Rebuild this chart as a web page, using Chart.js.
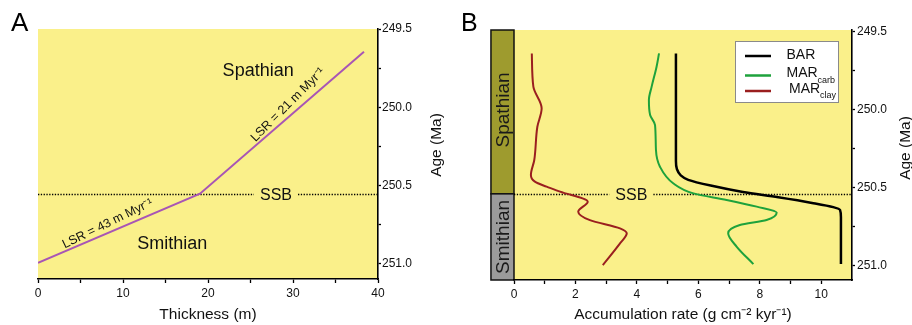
<!DOCTYPE html>
<html><head><meta charset="utf-8">
<script src="https://cdn.jsdelivr.net/npm/chart.js@4/dist/chart.umd.min.js"></script>
<style>
html,body{margin:0;padding:0;background:#fff;}
#wrap{position:relative;width:912px;height:325px;overflow:hidden;background:#fff;}
#ca{position:absolute;left:0;top:0;}
#cb{position:absolute;left:455px;top:0;}
</style></head><body>
<div id="wrap"><canvas id="ca" width="455" height="325"></canvas><canvas id="cb" width="457" height="325"></canvas></div>
<script>
// ---------- Panel A data ----------
const thicknessA = [0, 19.06, 38.35];
const ageA = [250.995, 250.553, 249.645];
const xTicksA = [0, 5, 10, 15, 20, 25, 30, 35, 40];
const xLabelsA = [0, 10, 20, 30, 40];
const ageTicks = [249.5, 249.75, 250.0, 250.25, 250.5, 250.75, 251.0];
const ageLabels = [249.5, 250.0, 250.5, 251.0];
const ssbAgeA = 250.553;

// ---------- Panel B data ----------
const barX   = [5.27, 5.27, 5.27, 5.30, 5.42, 5.67, 6.40, 7.45, 8.60, 9.70, 10.39, 10.61, 10.64, 10.64];
const barAge = [249.64, 250.10, 250.33, 250.38, 250.42, 250.45, 250.487, 250.528, 250.562, 250.598, 250.625, 250.643, 250.69, 250.99];
const carbX   = [4.72, 4.64, 4.48, 4.39, 4.43, 4.59, 4.62, 4.75, 5.18, 5.84, 6.92, 7.90, 8.55, 8.22, 7.35, 6.97, 7.25, 7.79];
const carbAge = [249.64, 249.725, 249.853, 249.939, 250.035, 250.099, 250.259, 250.366, 250.472, 250.537, 250.579, 250.622, 250.66, 250.708, 250.74, 250.793, 250.879, 250.99];
const clayX   = [0.58, 0.63, 0.90, 0.76, 0.66, 0.55, 0.68, 1.06, 1.50, 2.40, 2.09, 2.47, 3.45, 3.67, 3.45, 2.89];
const clayAge = [249.64, 249.853, 249.992, 250.11, 250.323, 250.419, 250.462, 250.494, 250.526, 250.59, 250.654, 250.708, 250.761, 250.793, 250.857, 250.996];
const xTicksB = [0, 1, 2, 3, 4, 5, 6, 7, 8, 9, 10];
const xLabelsB = [0, 2, 4, 6, 8, 10];
const ssbAgeB = 250.54;
const stageNames = ['Spathian', 'Smithian'];
const stageColors = ['#9E9B2E', '#9B9B9B'];
const legendNames = [['BAR', ''], ['MAR', 'carb'], ['MAR', 'clay']];

const FONT = "'Liberation Sans', Arial, Helvetica, sans-serif";
const YELLOW = '#FAF08A';
const TXT = '#111';
const pts = (xs, ys) => xs.map((v, i) => ({x: v, y: ys[i]}));

function rotText(ctx, text, x, y, deg, font, color) {
  ctx.save(); ctx.translate(x, y); ctx.rotate(deg * Math.PI / 180);
  ctx.font = font; ctx.fillStyle = color; ctx.textAlign = 'center'; ctx.textBaseline = 'middle';
  ctx.fillText(text, 0, 0); ctx.restore();
}
function fillArea(chart) {
  const {ctx, chartArea: a} = chart;
  ctx.save(); ctx.fillStyle = YELLOW; ctx.fillRect(a.left, a.top, a.right - a.left, a.bottom - a.top); ctx.restore();
}
function ssb(chart, age, labelX, size) {
  const {ctx, chartArea: a, scales: {x, y}} = chart;
  const py = Math.round(y.getPixelForValue(age)) + 0.5;
  const px = x.getPixelForValue(labelX);
  ctx.save();
  ctx.font = size + 'px ' + FONT;
  const w = ctx.measureText('SSB').width;
  ctx.strokeStyle = '#000'; ctx.lineWidth = 1.5; ctx.setLineDash([1.3, 1.5]);
  ctx.beginPath();
  ctx.moveTo(a.left, py); ctx.lineTo(px - w / 2 - 6, py);
  ctx.moveTo(px + w / 2 + 6, py); ctx.lineTo(a.right, py);
  ctx.stroke(); ctx.setLineDash([]);
  ctx.fillStyle = TXT; ctx.textAlign = 'center'; ctx.textBaseline = 'middle';
  ctx.fillText('SSB', px, py + 1);
  ctx.restore();
}
function letter(ctx, t, x, y, size) {
  ctx.save(); ctx.font = size + 'px ' + FONT; ctx.fillStyle = '#000';
  ctx.textAlign = 'left'; ctx.textBaseline = 'alphabetic'; ctx.fillText(t, x, y); ctx.restore();
}

function axisCommon(extra) {
  return Object.assign({
    type: 'linear',
    grid: {drawOnChartArea: false, drawTicks: true, tickLength: 4, color: '#000', tickColor: '#000', tickWidth: 1.3},
    border: {display: true, color: '#000', width: 1.6},
  }, extra);
}

// ---------- Panel A ----------
const panelA = {
  id: 'panelA',
  beforeDraw(chart) { fillArea(chart); },
  beforeDatasetsDraw(chart) { ssb(chart, ssbAgeA, 28.0, 16); },
  afterDraw(chart) {
    const {ctx, scales: {x, y}} = chart;
    const big = '18px ' + FONT;
    rotText(ctx, 'Spathian', x.getPixelForValue(25.9), y.getPixelForValue(249.768), 0, big, TXT);
    rotText(ctx, 'Smithian', x.getPixelForValue(15.8), y.getPixelForValue(250.872), 0, big, TXT);
    rotText(ctx, 'LSR = 43 m Myr\u207B\u00B9', x.getPixelForValue(8.2), y.getPixelForValue(250.744), -26, '12.5px ' + FONT, TXT);
    rotText(ctx, 'LSR = 21 m Myr\u207B\u00B9', x.getPixelForValue(29.4), y.getPixelForValue(249.985), -45, '12.5px ' + FONT, TXT);
    rotText(ctx, 'Age (Ma)', 437, 145, -90, '15.5px ' + FONT, TXT);
    letter(ctx, 'A', 11, 30.5, 26);
  }
};

new Chart(document.getElementById('ca'), {
  type: 'scatter',
  data: {datasets: [{
    data: pts(thicknessA, ageA), showLine: true, borderColor: '#A855B5', borderWidth: 2,
    pointRadius: 0, tension: 0, fill: false
  }]},
  options: {
    responsive: false, animation: false, devicePixelRatio: 1,
    layout: {padding: {left: 38, top: 29, right: 0, bottom: 0}},
    plugins: {legend: {display: false}, tooltip: {enabled: false}},
    scales: {
      x: axisCommon({
        position: 'bottom', min: 0, max: 40,
        afterBuildTicks: s => { s.ticks = xTicksA.map(v => ({value: v})); },
        ticks: {callback: v => xLabelsA.includes(v) ? String(v) : '', font: {family: FONT, size: 12}, color: TXT, padding: 3, maxRotation: 0, autoSkip: false},
        title: {display: true, text: 'Thickness (m)', font: {family: FONT, size: 15.5}, color: TXT, padding: {top: 0, bottom: 1}},
        afterFit: s => { s.height = 46; }
      }),
      y: axisCommon({
        position: 'right', reverse: true, min: 249.5, max: 251.098,
        afterBuildTicks: s => { s.ticks = ageTicks.map(v => ({value: v})); },
        ticks: {callback: v => ageLabels.includes(v) ? v.toFixed(1) : '', font: {family: FONT, size: 12}, color: TXT, padding: 1, autoSkip: false},
        grid: {drawOnChartArea: false, drawTicks: true, tickLength: 3, color: '#000', tickColor: '#000', tickWidth: 1.3},
        afterFit: s => { s.width = 77; }
      })
    }
  },
  plugins: [panelA]
});

// ---------- Panel B ----------
const panelB = {
  id: 'panelB',
  beforeDraw(chart) {
    fillArea(chart);
    const {ctx, scales: {x, y}} = chart;
    const xl = x.getPixelForValue(-0.75), xr = x.getPixelForValue(0);
    const bounds = [y.min, ssbAgeB, y.max];
    ctx.save();
    stageNames.forEach((name, i) => {
      const t = y.getPixelForValue(bounds[i]), b = y.getPixelForValue(bounds[i + 1]);
      ctx.fillStyle = stageColors[i];
      ctx.fillRect(xl, t, xr - xl, b - t);
      ctx.strokeStyle = '#111'; ctx.lineWidth = 1.5;
      ctx.strokeRect(xl, t, xr - xl, b - t);
      rotText(ctx, name, (xl + xr) / 2 + 1, (t + b) / 2 - (i === 0 ? 2 : 0), -90, '19px ' + FONT, '#1a1a1a');
    });
    ctx.restore();
  },
  beforeDatasetsDraw(chart) { ssb(chart, ssbAgeB, 3.82, 16); },
  afterDraw(chart) {
    const {ctx, data} = chart;
    ctx.save();
    ctx.fillStyle = '#fff'; ctx.strokeStyle = '#8a8a8a'; ctx.lineWidth = 1;
    ctx.fillRect(280.5, 41.5, 103, 61); ctx.strokeRect(280.5, 41.5, 103, 61);
    const rowY = [56, 75.5, 91];
    const txtX = [331.5, 331.5, 334];
    legendNames.forEach((nm, i) => {
      const ds = data.datasets[i];
      ctx.strokeStyle = ds.borderColor; ctx.lineWidth = 2.5;
      ctx.beginPath(); ctx.moveTo(290, rowY[i]); ctx.lineTo(316, rowY[i]); ctx.stroke();
      ctx.fillStyle = TXT; ctx.textAlign = 'left'; ctx.textBaseline = 'middle';
      ctx.font = '14px ' + FONT;
      const yy = i === 0 ? rowY[i] - 0.5 : rowY[i] - 2;
      ctx.fillText(nm[0], txtX[i], yy);
      if (nm[1]) {
        const w = ctx.measureText(nm[0]).width;
        ctx.font = '9px ' + FONT;
        ctx.fillText(nm[1], txtX[i] + w, yy + 7);
      }
    });
    ctx.restore();
    rotText(ctx, 'Age (Ma)', 450.5, 148, -90, '15.5px ' + FONT, TXT);
    letter(ctx, 'B', 6, 30.5, 25);
  }
};

new Chart(document.getElementById('cb'), {
  type: 'scatter',
  data: {datasets: [
    {label: 'BAR', data: pts(barX, barAge), borderColor: '#000000', borderWidth: 2.5},
    {label: 'MAR carb', data: pts(carbX, carbAge), borderColor: '#1EA23C', borderWidth: 2},
    {label: 'MAR clay', data: pts(clayX, clayAge), borderColor: '#9A1F1F', borderWidth: 2}
  ].map(d => Object.assign(d, {showLine: true, pointRadius: 0, fill: false, cubicInterpolationMode: 'monotone'}))},
  options: {
    indexAxis: 'y',
    responsive: false, animation: false, devicePixelRatio: 1,
    layout: {padding: {left: 59, top: 30, right: 0, bottom: 0}},
    plugins: {legend: {display: false}, tooltip: {enabled: false}},
    scales: {
      x: axisCommon({
        position: 'bottom', min: 0, max: 11,
        afterBuildTicks: s => { s.ticks = xTicksB.map(v => ({value: v})); },
        ticks: {callback: v => xLabelsB.includes(v) ? String(v) : '', font: {family: FONT, size: 12}, color: TXT, padding: 3, maxRotation: 0, autoSkip: false},
        title: {display: true, text: 'Accumulation rate (g cm\u207B\u00B2 kyr\u207B\u00B9)', font: {family: FONT, size: 15.5}, color: TXT, padding: {top: 0, bottom: 1}},
        afterFit: s => { s.height = 45; }
      }),
      y: axisCommon({
        position: 'right', reverse: true, min: 249.49, max: 251.092,
        afterBuildTicks: s => { s.ticks = ageTicks.map(v => ({value: v})); },
        ticks: {callback: v => ageLabels.includes(v) ? v.toFixed(1) : '', font: {family: FONT, size: 12}, color: TXT, padding: 2, autoSkip: false},
        grid: {drawOnChartArea: false, drawTicks: true, tickLength: 3, color: '#000', tickColor: '#000', tickWidth: 1.3},
        afterFit: s => { s.width = 60; }
      })
    }
  },
  plugins: [panelB]
});
</script>
</body></html>
